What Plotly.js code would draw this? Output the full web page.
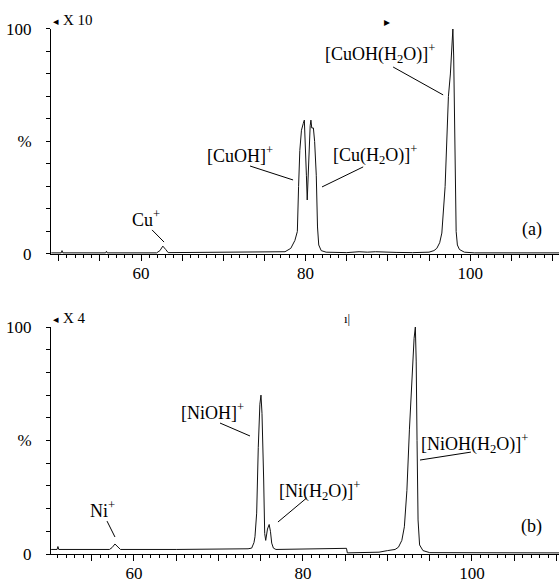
<!DOCTYPE html>
<html>
<head>
<meta charset="utf-8">
<script src="https://cdn.plot.ly/plotly-3.0.1.min.js"></script>
<style>html,body{margin:0;padding:0;background:#fff;}#chart{width:559px;height:582px;}</style>
</head>
<body>
<div id="chart"></div>
<script>
// ---- Panel (a): Cu spectrum (m/z, % relative intensity) ----
var mzCu  = [49.1, 50.3, 50.4, 50.5, 55.7, 55.8, 55.9, 61.9, 62.3, 62.65, 63.0, 63.3,
             77.5, 78.2, 78.7, 79.0, 79.15, 79.3, 79.5, 79.6, 79.72, 79.85, 79.95, 80.1, 80.2,
             80.3, 80.45, 80.56, 80.65, 80.75, 80.95, 81.1, 81.3, 81.45, 81.6, 81.9, 82.5,
             85.0, 86.5, 87.5, 88.5, 89.5, 91.0, 93.0, 95.0, 95.6, 95.95, 96.3, 96.56, 96.96,
             97.36, 97.6, 97.8, 97.9, 98.0, 98.1, 98.2, 98.3, 98.45, 98.7, 99.3, 100.5, 110.8];
var intCu = [0.5, 0.5, 1.5, 0.5, 0.5, 1.2, 0.5, 0.5, 1.5, 3.5, 2.0, 0.6,
             1.0, 2.5, 6.0, 10, 30, 46, 55, 56, 58, 59.5, 52, 35, 24,
             35, 52, 57, 59.5, 56, 56, 50, 35, 12, 4, 1.5, 0.8,
             0.6, 1.0, 0.8, 1.0, 0.8, 0.7, 0.6, 0.8, 1.5, 2.5, 5, 9.3, 30,
             70, 80, 95, 100, 88, 65, 35, 10, 4, 2, 0.8, 0.5, 0.5];

// ---- Panel (b): Ni spectrum ----
var mzNi  = [50.2, 50.9, 51.0, 51.1, 57.1, 57.4, 57.75, 58.1, 58.4, 65.0, 70.0,
             73.5, 73.93, 74.2, 74.32, 74.52, 74.71, 74.9, 75.03, 75.15, 75.35, 75.47, 75.59,
             75.8, 76.0, 76.15, 76.3, 76.5, 76.8, 80.0, 83.0, 85.15, 85.25, 87.0, 89.0, 90.0,
             90.9, 91.3, 91.7, 92.0, 92.3, 92.6, 92.9, 93.15, 93.3, 93.4, 93.5, 93.62, 93.8,
             94.2, 95.0, 100.0, 110.3];
var intNi = [2.0, 2.0, 3.3, 2.0, 2.0, 2.8, 4.4, 3.0, 2.0, 2.0, 2.0,
             2.3, 2.6, 5.0, 7.6, 18, 47, 66, 70, 62, 32.6, 9, 6,
             11, 13, 10, 4.8, 2.6, 2.0, 2.2, 2.4, 2.5, 0.5, 0.6, 0.8, 1.5,
             2.0, 3.0, 6.0, 12, 28, 55, 80, 95, 100, 85, 50, 15, 4,
             1.5, 0.6, 0.5, 0.5];

// ---- Tick labels ----
var xTickVals = [50, 55, 60, 65, 70, 75, 80, 85, 90, 95, 100, 105, 110];
var xTickText = ['', '', '60', '', '', '', '80', '', '', '', '100', '', ''];
var yTickVals = [0, 10, 20, 30, 40, 50, 60, 70, 80, 90, 100];
var yTickText = ['0', '', '', '', '', '%', '', '', '', '', '100'];

// ---- Labels ----
var labelsCu = ['Cu<sup>+</sup>', '[CuOH]<sup>+</sup>', '[Cu(H<sub>2</sub>O)]<sup>+</sup>', '[CuOH(H<sub>2</sub>O)]<sup>+</sup>', '(a)', '\u25C2', 'X 10', '\u25B8'];
var labelsNi = ['Ni<sup>+</sup>', '[Ni OH]<sup>+</sup>', '[Ni(H<sub>2</sub>O)]<sup>+</sup>', '[NiOH(H<sub>2</sub>O)]<sup>+</sup>', '(b)', '\u25C2', 'X 4', '\u0131|'];
labelsNi[1] = '[NiOH]<sup>+</sup>';

var SERIF = '"Liberation Serif", "Times New Roman", serif';
var tf = {family: SERIF, size: 17, color: '#000'};

var traces = [
  {x: mzCu, y: intCu, xaxis: 'x', yaxis: 'y', type: 'scatter', mode: 'lines',
   line: {color: '#111', width: 1}, hoverinfo: 'skip'},
  {x: mzNi, y: intNi, xaxis: 'x2', yaxis: 'y2', type: 'scatter', mode: 'lines',
   line: {color: '#111', width: 1}, hoverinfo: 'skip'}
];

function xAx(range, anchor) {
  return {
    anchor: anchor, range: range, showline: true, linecolor: '#000', linewidth: 1,
    showgrid: false, zeroline: false, ticks: 'outside', ticklen: 6, tickcolor: '#000', tickwidth: 1,
    tickmode: 'array', tickvals: xTickVals, ticktext: xTickText, tickfont: tf,
    ticklabelstandoff: -2,
    minor: {tickmode: 'linear', tick0: 0, dtick: 1, ticks: 'outside', ticklen: 3, tickcolor: '#000', tickwidth: 1, showgrid: false}
  };
}
function yAx(domain, anchor) {
  return {
    anchor: anchor, domain: domain, range: [0, 100], showline: true, linecolor: '#000', linewidth: 1,
    showgrid: false, zeroline: false, ticks: 'outside', ticklen: 4, tickcolor: '#000', tickwidth: 1,
    tickmode: 'array', tickvals: yTickVals, ticktext: yTickText, tickfont: tf,
    ticklabelstandoff: 11
  };
}

function ann(xr, yr, x, y, text, opts) {
  var a = {xref: xr, yref: yr, x: x, y: y, text: text, showarrow: false,
           font: {family: SERIF, size: 18, color: '#000'}, xanchor: 'center', yanchor: 'middle'};
  for (var k in opts) a[k] = opts[k];
  return a;
}
function seg(xr, yr, x0, y0, x1, y1) {
  return {type: 'line', xref: xr, yref: yr, x0: x0, y0: y0, x1: x1, y1: y1,
          line: {color: '#000', width: 1}};
}
var smallSerif = {family: SERIF, size: 15, color: '#000'};
var glyph = {family: 'DejaVu Sans', size: 11, color: '#000'};

var annotations = [
  ann('x', 'y', 60.61, 15.6, labelsCu[0]),
  ann('x', 'y', 72.04, 44.0, labelsCu[1]),
  ann('x', 'y', 88.45, 44.4, labelsCu[2]),
  ann('x', 'y', 89.06, 89.3, labelsCu[3]),
  ann('x', 'y', 107.54, 10.7, labelsCu[4]),
  ann('paper', 'paper', 0.0, 0.9622, labelsCu[5], {xanchor: 'left', font: glyph}),
  ann('paper', 'paper', 0.0195, 0.9656, labelsCu[6], {xanchor: 'left', font: smallSerif}),
  ann('paper', 'paper', 0.6614, 0.9622, labelsCu[7], {font: {family: 'DejaVu Sans', size: 12, color: '#000'}}),
  ann('x2', 'y2', 56.33, 19.4, labelsNi[0]),
  ann('x2', 'y2', 69.35, 62.6, labelsNi[1]),
  ann('x2', 'y2', 82.01, 27.8, labelsNi[2]),
  ann('x2', 'y2', 100.24, 48.9, labelsNi[3]),
  ann('x2', 'y2', 107.1, 11.9, labelsNi[4]),
  ann('paper', 'paper', 0.0, 0.4502, labelsNi[5], {xanchor: 'left', font: glyph}),
  ann('paper', 'paper', 0.0195, 0.4536, labelsNi[6], {xanchor: 'left', font: smallSerif}),
  ann('paper', 'paper', 0.5827, 0.4519, labelsNi[7], {font: {family: SERIF, size: 13, color: '#000'}})
];

var shapes = [
  seg('x', 'y', 61.34, 10.7, 62.8, 5.3),
  seg('x', 'y', 73.25, 39.1, 78.48, 32.9),
  seg('x', 'y', 87.0, 38.7, 82.0, 29.8),
  seg('x', 'y', 90.64, 83.1, 96.72, 70.7),
  seg('x2', 'y2', 56.81, 14.5, 57.75, 7.5),
  seg('x2', 'y2', 70.18, 57.7, 73.73, 52.0),
  seg('x2', 'y2', 80.44, 24.7, 77.04, 14.1),
  seg('x2', 'y2', 99.88, 44.9, 93.85, 41.4)
];

var layout = {
  width: 559, height: 582,
  margin: {l: 51, r: 0, t: 0, b: 0},
  paper_bgcolor: '#fff', plot_bgcolor: '#fff',
  showlegend: false,
  xaxis: xAx([49.06, 110.8], 'y'),
  yaxis: yAx([0.5636, 0.9502], 'x'),
  xaxis2: xAx([50.18, 110.3], 'y2'),
  yaxis2: yAx([0.0481, 0.4381], 'x2'),
  annotations: annotations,
  shapes: shapes,
  font: {family: SERIF, color: '#000'}
};

Plotly.newPlot('chart', traces, layout, {displayModeBar: false, staticPlot: true});
</script>
</body>
</html>
